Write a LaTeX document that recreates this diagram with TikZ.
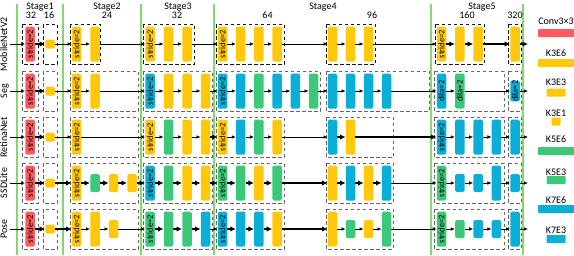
\documentclass[tikz,border=0pt]{standalone}
\usepackage{fontspec}
\setmainfont{Carlito}
\usepackage{graphicx}
\usetikzlibrary{arrows.meta}
\definecolor{redc}{RGB}{255,90,95}
\definecolor{yelc}{RGB}{255,200,10}
\definecolor{grnc}{RGB}{60,200,120}
\definecolor{bluc}{RGB}{10,175,215}
\definecolor{stgc}{RGB}{130,215,110}
\tikzset{>=latex}
\tikzset{
  blk/.style={rectangle, rounded corners=1.5pt, inner sep=0pt,
    minimum width=9.5pt, font=\fontsize{8.5}{9}\selectfont},
  e6/.style={minimum height=35pt},
  e3/.style={minimum height=18pt},
  e1/.style={minimum height=9pt},
  endpt/.style={shape=coordinate},
  thinarr/.style={line width=0.7pt, -{Latex[length=4pt,width=3.6pt]}},
  boldarr/.style={line width=2.4pt, -{Latex[length=5.5pt,width=5.5pt]}},
  grpbox/.style={draw=black!60, line width=0.9pt, dash pattern=on 3.5pt off 2.5pt},
  stageln/.style={draw=stgc, line width=1.1pt},
  rowlab/.style={rotate=90, anchor=base},
  toplab/.style={anchor=base},
  legbar/.style={rectangle, rounded corners=0.8pt, inner sep=0pt, minimum height=8pt},
}
% one row of the picture: name, y, label, box colour, boxes, blocks
\newcommand{\netrow}[6]{%
  \node[rowlab] (#1-lab) at (7,#2) {#3};
  \foreach \xa/\xb in {#5}
    \draw[grpbox,#4] (\xa,#2-20) rectangle (\xb,#2+20);
  \coordinate (#1-0) at (10,#2);
  \foreach \px/\clr/\hgt/\tx/\lw [count=\idx, remember=\idx as \prv (initially 0)] in {#6}{
    \node[blk,fill=\clr,\hgt] (#1-\idx) at (\px,#2) {\rotatebox{90}{\tx}};
    \draw[\lw] (#1-\prv) -- (#1-\idx);
  }%
}

\begin{document}
\begin{tikzpicture}[x=1pt, y=-1pt]
  \useasboundingbox (0,0) rectangle (574,255);
  % stage borders
  \foreach \sx in {17, 63, 141, 214, 431, 523}
    \draw[stageln] (\sx,4) -- (\sx,255);
  \foreach \sx/\sn in {40/1, 107/2, 178/3, 323/4, 482/5}
    \node[toplab] (stage\sn) at (\sx,9) {Stage\sn};
  \foreach \sx/\ch [count=\idx] in {31/32, 49/16, 107/24, 177/32, 267.5/64, 372/96, 467/160, 515/320}
    \node[toplab] (chan\idx) at (\sx,18.5) {\ch};

  \netrow{mb}{44}{MobileNetV2}{draw=black!90}
    {22/38, 43/57, 70/100, 143/194, 216/284, 326/375, 435/484, 508/521}
    {30/redc/e6/stride=2/thinarr, 50/yelc/e1//boldarr,
     76.5/yelc/e6/stride=2/thinarr, 95/yelc/e6//thinarr,
     150/yelc/e6/stride=2/thinarr, 168.5/yelc/e6//thinarr, 187/yelc/e6//thinarr,
     222.5/yelc/e6/stride=2/thinarr, 240.7/yelc/e6//thinarr, 258.9/yelc/e6//thinarr, 277.1/yelc/e6//thinarr,
     332.5/yelc/e6//thinarr, 350.5/yelc/e6//thinarr, 368.5/yelc/e6//thinarr,
     441.5/yelc/e6/stride=2/thinarr, 459.8/yelc/e6//boldarr, 478.1/yelc/e6//boldarr,
     515/yelc/e6//boldarr, 528/none/endpt//boldarr}

  \netrow{seg}{91}{Seg}{}
    {22/38, 43/57, 70/138, 143/212, 216/320, 326/429, 434/504, 508/521}
    {30/redc/e6/stride=2/thinarr, 50/yelc/e1//boldarr,
     76.5/yelc/e6/stride=2/thinarr, 95/yelc/e6//thinarr,
     150/bluc/e6/stride=2/thinarr, 168.5/yelc/e6//thinarr, 187/yelc/e6//thinarr, 205.5/yelc/e6//thinarr,
     222.5/bluc/e6/stride=2/thinarr, 240.7/bluc/e6//thinarr, 258.9/grnc/e6//thinarr,
     277.1/bluc/e6//thinarr, 295.3/bluc/e6//thinarr, 313.5/grnc/e6//thinarr,
     332.5/bluc/e6//thinarr, 350.5/bluc/e6//thinarr, 368.5/bluc/e6//thinarr, 386.5/bluc/e6//thinarr,
     441.5/bluc/e6/dila=2/thinarr, 459.8/grnc/e6/dila=2/thinarr,
     515/bluc/e3/dila=2/thinarr, 528/none/endpt//thinarr}

  \netrow{ret}{137}{RetinaNet}{}
    {22/38, 43/57, 70/138, 143/212, 216/284, 326/393, 434/504, 508/521}
    {30/redc/e6/stride=2/thinarr, 50/yelc/e1//boldarr,
     76.5/yelc/e6/stride=2/thinarr,
     150/yelc/e6/stride=2/thinarr, 168.5/grnc/e6//thinarr, 187/yelc/e6//thinarr, 205.5/yelc/e6//thinarr,
     222.5/yelc/e6/stride=2/boldarr, 240.7/bluc/e6//thinarr, 258.9/grnc/e6//thinarr, 277.1/yelc/e6//thinarr,
     332.5/bluc/e6//thinarr, 350.5/yelc/e6//boldarr,
     441.5/bluc/e6/stride=2/boldarr, 459.8/bluc/e6//thinarr, 478.1/bluc/e6//thinarr, 496.4/bluc/e6//thinarr,
     515/bluc/e6//thinarr, 528/none/endpt//thinarr}

  \netrow{ssd}{183}{SSDLite}{}
    {22/38, 43/57, 70/138, 143/212, 216/284, 326/393, 434/504, 508/521}
    {30/redc/e6/stride=2/thinarr, 50/yelc/e1//boldarr,
     76.5/yelc/e6/stride=2/boldarr, 95/grnc/e3//boldarr, 113.5/yelc/e3//boldarr, 132/yelc/e3//boldarr,
     150/bluc/e6/stride=2/boldarr, 168.5/grnc/e6//boldarr, 187/yelc/e6//boldarr, 205.5/yelc/e6//boldarr,
     222.5/grnc/e6/stride=2/boldarr, 240.7/grnc/e6//boldarr, 258.9/yelc/e6//boldarr, 277.1/grnc/e6//boldarr,
     332.5/yelc/e6//boldarr, 350.5/bluc/e6//boldarr, 368.5/yelc/e6//boldarr, 386.5/bluc/e6//boldarr,
     441.5/grnc/e6/stride=2/thinarr, 459.8/bluc/e3//thinarr, 478.1/bluc/e3//thinarr, 496.4/bluc/e6//thinarr,
     515/bluc/e3//thinarr, 528/none/endpt//thinarr}

  \netrow{pose}{229}{Pose}{}
    {22/38, 43/57, 70/138, 143/212, 216/284, 326/393, 434/504, 508/521}
    {30/redc/e6/stride=2/thinarr, 50/yelc/e1//boldarr,
     76.5/yelc/e6/stride=2/boldarr, 95/yelc/e6//thinarr, 113.5/yelc/e3//thinarr,
     150/grnc/e6/stride=2/thinarr, 168.5/grnc/e6//boldarr, 187/grnc/e6//boldarr, 205.5/bluc/e6//boldarr,
     222.5/bluc/e6/stride=2/thinarr, 240.7/bluc/e6//boldarr, 258.9/bluc/e6//boldarr, 277.1/yelc/e6//boldarr,
     332.5/yelc/e6//boldarr, 350.5/grnc/e3//thinarr, 368.5/yelc/e3//thinarr, 386.5/grnc/e6//thinarr,
     441.5/grnc/e6/stride=2/thinarr, 459.8/grnc/e3//thinarr, 478.1/bluc/e3//thinarr, 496.4/bluc/e3//thinarr,
     515/bluc/e6//thinarr, 528/none/endpt//thinarr}

  % legend
  \foreach \nm/\clr/\bw/\ty/\by [count=\idx] in {Conv3×3/redc/36/24.5/33, K3E6/yelc/36/56.5/63,
      K3E3/yelc/19/85.5/92.5, K3E1/yelc/9/116.5/121.5, K5E6/grnc/36/142.5/151,
      K5E3/grnc/19/175.5/180, K7E6/bluc/36/203.5/209, K7E3/bluc/19/233.5/239}{
    \node[toplab] (legt\idx) at (556,\ty) {\nm};
    \node[legbar, fill=\clr, minimum width=\bw] (legb\idx) at (556,\by) {};
  }
\end{tikzpicture}
\end{document}
